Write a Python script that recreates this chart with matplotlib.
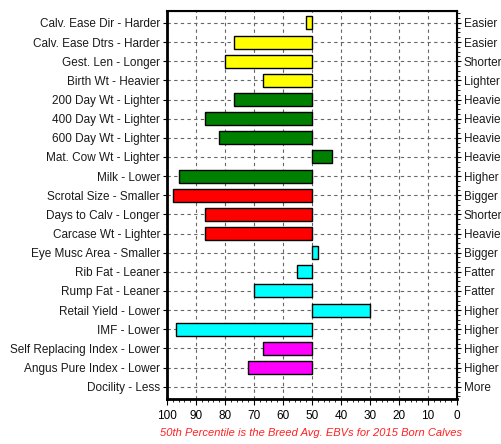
import matplotlib.pyplot as plt
from matplotlib.ticker import MultipleLocator

## Datos
traits = ['Calv. Ease Dir - Harder', 'Calv. Ease Dtrs - Harder', 'Gest. Len - Longer',
          'Birth Wt - Heavier', '200 Day Wt - Lighter', '400 Day Wt - Lighter',
          '600 Day Wt - Lighter', 'Mat. Cow Wt - Lighter', 'Milk - Lower',
          'Scrotal Size - Smaller', 'Days to Calv - Longer', 'Carcase Wt - Lighter',
          'Eye Musc Area - Smaller', 'Rib Fat - Leaner', 'Rump Fat - Leaner',
          'Retail Yield - Lower', 'IMF - Lower', 'Self Replacing Index - Lower',
          'Angus Pure Index - Lower', 'Docility - Less']
right_labels = ['Easier', 'Easier', 'Shorter', 'Lighter', 'Heavier', 'Heavier', 'Heavier',
                'Heavier', 'Higher', 'Bigger', 'Shorter', 'Heavier', 'Bigger', 'Fatter',
                'Fatter', 'Higher', 'Higher', 'Higher', 'Higher', 'More']
percentile = [52, 77, 80, 67, 77, 87, 82, 43, 96, 98, 87, 87, 48, 55, 70, 30, 97, 67, 72, 50]
colors = ['yellow'] * 4 + ['green'] * 5 + ['red'] * 3 + ['cyan'] * 5 + ['magenta'] * 2 + ['none']
#############################

plt.rcParams['font.family'] = ['Liberation Sans', 'DejaVu Sans']

fig = plt.figure(figsize=(5.01, 4.44), dpi=100)
ax = fig.add_axes([0.3333, 0.1014, 0.5789, 0.8746])

pos = list(range(len(traits)))
widths = [p - 50 for p in percentile]
for i in pos:
    if widths[i] != 0:
        ax.barh(i, widths[i], left=50, height=0.68, color=colors[i],
                edgecolor='black', linewidth=1, zorder=3)

ax.set_xlim(100, 0)
ax.set_ylim(len(traits) - 0.36, -0.64)
ax.set_yticks(pos)
ax.set_yticklabels(traits, fontsize=8.5, color='#1a1a1a')
ax.xaxis.set_major_locator(MultipleLocator(10))
ax.xaxis.set_minor_locator(MultipleLocator(2))
ax.tick_params(axis='x', labelsize=8.5, length=4, pad=4)
ax.tick_params(axis='x', which='minor', length=2)
ax.tick_params(axis='y', length=3, pad=2)
ax.grid(True, which='major', color='#666666', linestyle=(0, (3, 3)), linewidth=0.8, zorder=0)
for s in ax.spines.values():
    s.set_linewidth(1.5)
ax.spines['left'].set_linewidth(2)
ax.spines['bottom'].set_linewidth(2)

ax2 = ax.twinx()
ax2.set_ylim(ax.get_ylim())
ax2.set_yticks(pos)
ax2.set_yticklabels(right_labels, fontsize=8.5, color='#1a1a1a')
ax2.yaxis.set_minor_locator(MultipleLocator(0.25))
ax2.tick_params(axis='y', length=3, pad=2)
ax2.tick_params(axis='y', which='minor', length=2)

fig.text(0.62, 0.018, '50th Percentile is the Breed Avg. EBVs for 2015 Born Calves',
         color='#ff2020', fontsize=8, style='italic', ha='center')

fig.savefig('out.png', dpi=100)
